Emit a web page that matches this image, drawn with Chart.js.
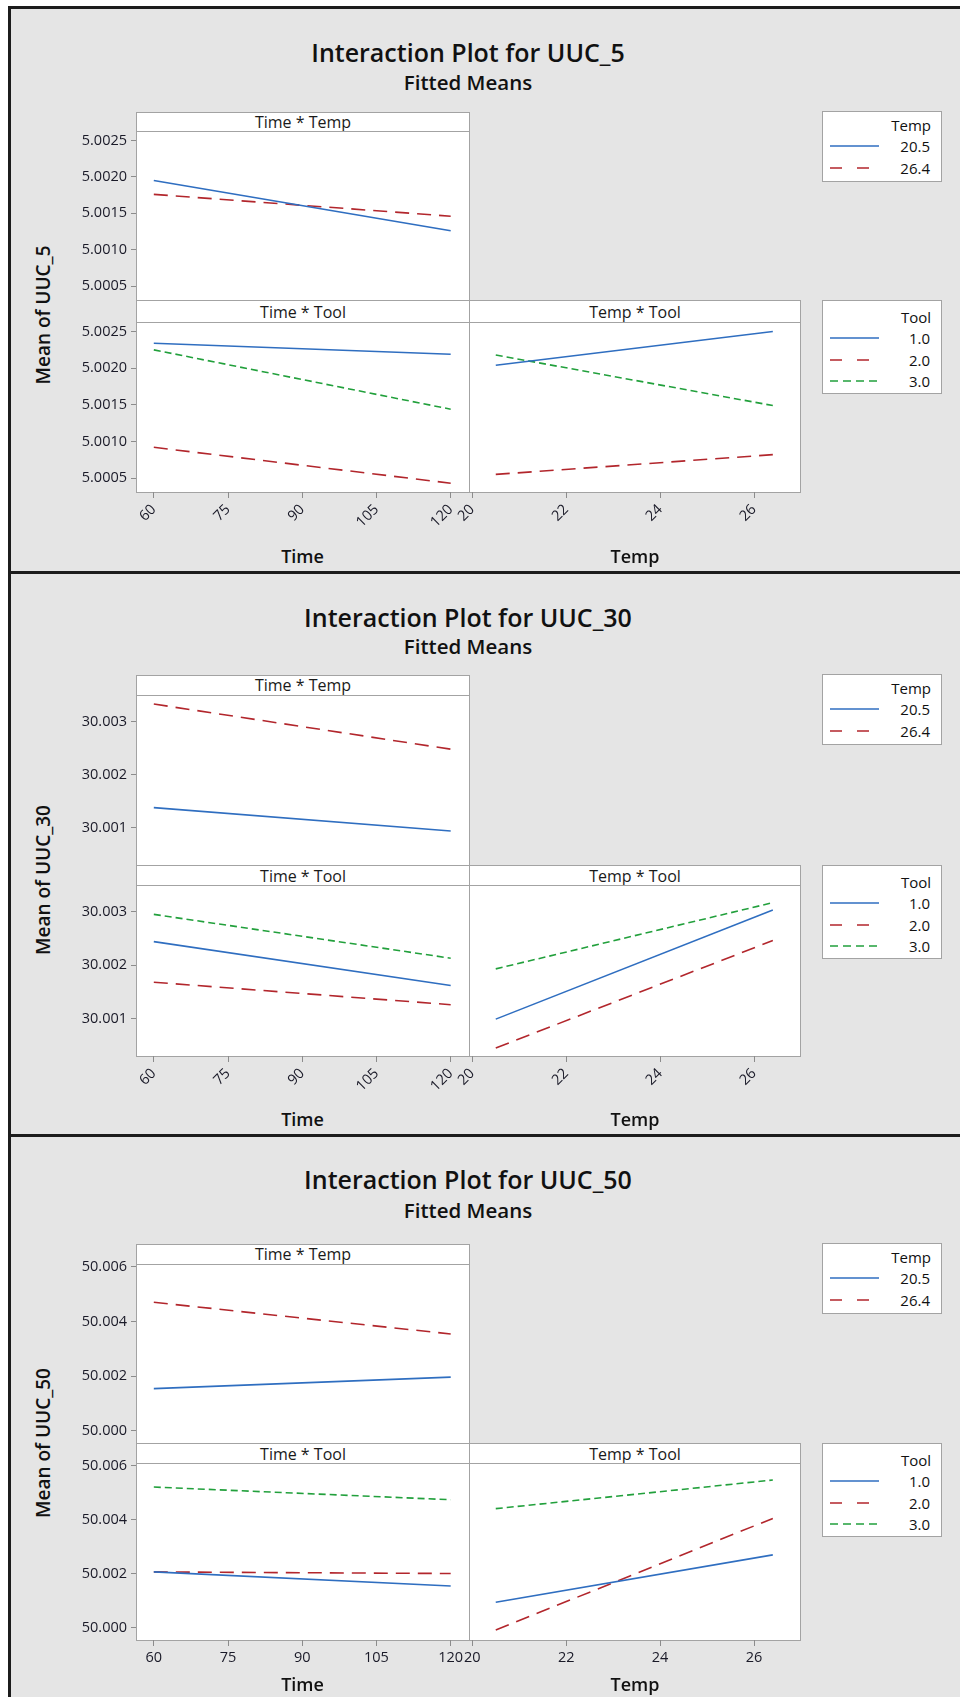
<!DOCTYPE html>
<html>
<head>
<meta charset="utf-8">
<script src="https://cdn.jsdelivr.net/npm/chart.js@4.4.1/dist/chart.umd.min.js"></script>
<style>
  body { margin: 0; width: 960px; height: 1697px; background: #fff; position: relative; overflow: hidden; font-family: 'Open Sans', sans-serif; color: #111; }
  .panel { position: absolute; left: 8px; width: 960px; background: #e5e5e5; border: 3px solid #1c1c1c; box-sizing: border-box; }
  .box { position: absolute; background: #fff; border: 1px solid #a3a3a3; box-sizing: border-box; z-index: 1; }
  .strip { text-align: center; font-size: 16px; line-height: 18px; color: #1a1a1a; }
  .txt { position: absolute; white-space: nowrap; z-index: 4; }
  canvas { position: absolute; z-index: 3; }
</style>
</head>
<body>
<script>
// factor levels and tick labels
const timeLevels = [60, 120];
const tempLevels = [20.5, 26.4];
const timeTicks = [60, 75, 90, 105, 120];
const tempTicks = [20, 22, 24, 26];
const tempNames = ['20.5', '26.4'];
const toolNames = ['1.0', '2.0', '3.0'];

// UUC_5 fitted means
const u5Ticks = [5.0005, 5.0010, 5.0015, 5.0020, 5.0025];
const u5TimeTemp205 = [5.00195, 5.00126];
const u5TimeTemp264 = [5.00176, 5.00146];
const u5TimeTool1 = [5.00234, 5.00219];
const u5TimeTool2 = [5.00092, 5.00043];
const u5TimeTool3 = [5.00225, 5.00144];
const u5TempTool1 = [5.00204, 5.00250];
const u5TempTool2 = [5.00055, 5.00082];
const u5TempTool3 = [5.00218, 5.00149];

// UUC_30 fitted means
const u30Ticks = [30.001, 30.002, 30.003];
const u30TimeTemp205 = [30.00138, 30.00094];
const u30TimeTemp264 = [30.00333, 30.00248];
const u30TimeTool1 = [30.00244, 30.00162];
const u30TimeTool2 = [30.00168, 30.00126];
const u30TimeTool3 = [30.00295, 30.00213];
const u30TempTool1 = [30.00099, 30.00303];
const u30TempTool2 = [30.00045, 30.00246];
const u30TempTool3 = [30.00193, 30.00317];

// UUC_50 fitted means
const u50Ticks = [50.000, 50.002, 50.004, 50.006];
const u50TimeTemp205 = [50.00154, 50.00196];
const u50TimeTemp264 = [50.00470, 50.00354];
const u50TimeTool1 = [50.00207, 50.00155];
const u50TimeTool2 = [50.00207, 50.00201];
const u50TimeTool3 = [50.00521, 50.00474];
const u50TempTool1 = [50.00095, 50.00270];
const u50TempTool2 = [49.99992, 50.00405];
const u50TempTool3 = [50.00441, 50.00547];

const blue = { color: '#2f6ec0', dash: [], legendDash: '' };
const red = { color: '#b2262c', dash: [14, 8], legendDash: '12 15' };
const green = { color: '#22a03c', dash: [7, 4], legendDash: '8 5' };

const tickFont = { family: "'Open Sans', sans-serif", size: 14.5 };

function div(cls, l, t, w, h, html, extra) {
    const d = document.createElement('div');
    d.className = cls;
    d.style.cssText = `left:${l}px;top:${t}px;width:${w}px;height:${h}px;` + (extra || '');
    if (html) d.innerHTML = html;
    document.body.appendChild(d);
    return d;
}

function text(x, y, str, css, align) {
    const d = document.createElement('div');
    d.className = 'txt';
    const tr = align === 'right' ? 'translate(-100%,-50%)' : 'translate(-50%,-50%)';
    d.style.cssText = `left:${x}px;top:${y}px;transform:${tr};` + (css || '');
    d.textContent = str;
    document.body.appendChild(d);
    return d;
}

function line(xs, ys, st) {
    return {
        data: xs.map((x, i) => ({ x: x, y: ys[i] })),
        borderColor: st.color,
        borderDash: st.dash,
        borderWidth: 1.6,
        pointRadius: 0,
        tension: 0,
        fill: false
    };
}

function plot(c) {
    const yW = c.showY ? 76 : 0;
    const padL = c.showY ? 0 : 30;
    const padT = 10;
    const xH = c.showX ? 48 : 0;
    const padB = c.showX ? 0 : 8;
    const W = c.width + yW + padL;
    const H = c.height + padT + xH + padB;
    const cv = document.createElement('canvas');
    cv.width = W;
    cv.height = H;
    cv.style.left = (c.left - yW - padL) + 'px';
    cv.style.top = (c.top - padT) + 'px';
    cv.style.width = W + 'px';
    cv.style.height = H + 'px';
    document.body.appendChild(cv);

    new Chart(cv.getContext('2d'), {
        type: 'line',
        data: { datasets: c.datasets },
        options: {
            responsive: false,
            animation: false,
            devicePixelRatio: 1,
            layout: { padding: { left: padL, top: padT, right: 0, bottom: padB } },
            plugins: { legend: { display: false }, tooltip: { enabled: false } },
            scales: {
                x: {
                    type: 'linear',
                    display: c.showX,
                    min: c.xMin,
                    max: c.xMax,
                    afterBuildTicks: s => { s.ticks = c.xTicks.map(v => ({ value: v })); },
                    afterFit: s => { s.height = xH; s.paddingLeft = 0; s.paddingRight = 0; },
                    grid: { drawOnChartArea: false, drawTicks: true, tickLength: 6, color: '#8c8c8c' },
                    border: { display: false },
                    ticks: {
                        autoSkip: false,
                        minRotation: c.rot,
                        maxRotation: c.rot,
                        padding: 3,
                        color: '#1a1a28',
                        font: tickFont,
                        callback: v => String(v)
                    }
                },
                y: {
                    type: 'linear',
                    display: c.showY,
                    min: c.yMin,
                    max: c.yMax,
                    afterBuildTicks: s => { s.ticks = c.yTicks.map(v => ({ value: v })); },
                    afterFit: s => { s.width = yW; s.paddingTop = 0; s.paddingBottom = 0; },
                    grid: { drawOnChartArea: false, drawTicks: true, tickLength: 5, color: '#8c8c8c' },
                    border: { display: false },
                    ticks: {
                        padding: 4,
                        color: '#1a1a28',
                        font: tickFont,
                        callback: v => v.toFixed(c.digits)
                    }
                }
            }
        }
    });
}

function legend(top, title, names, styles) {
    const h = names.length === 2 ? 71 : 94;
    div('box', 822, top, 120, h, '', 'z-index:2;');
    const t0 = names.length === 2 ? 14 : 17;
    text(931, top + t0, title, 'font-size:15px;', 'right');
    names.forEach((n, i) => {
        const y = top + t0 + 21 + i * 21.5;
        const svg = document.createElementNS('http://www.w3.org/2000/svg', 'svg');
        svg.setAttribute('width', '50');
        svg.setAttribute('height', '4');
        svg.style.cssText = `position:absolute;left:830px;top:${y - 2}px;z-index:4;`;
        const ln = document.createElementNS('http://www.w3.org/2000/svg', 'line');
        ln.setAttribute('x1', '0'); ln.setAttribute('x2', '49');
        ln.setAttribute('y1', '2'); ln.setAttribute('y2', '2');
        ln.setAttribute('stroke', styles[i].color);
        ln.setAttribute('stroke-width', '1.6');
        if (styles[i].legendDash) ln.setAttribute('stroke-dasharray', styles[i].legendDash);
        svg.appendChild(ln);
        document.body.appendChild(svg);
        text(930, y, n, 'font-size:15px;', 'right');
    });
}

// page layout of the three Minitab panels
const panels = [
    {
        name: 'UUC_5', top: 6, height: 568, titleY: 52, subY: 82, labelY: 315, axisY: 556,
        s1: 112, p1: 131, b1: 300, p2: 322, b2: 492, rot: 45,
        yMin: 5.00031, yMax: 5.00263, ticks: u5Ticks, digits: 4,
        tt: [u5TimeTemp205, u5TimeTemp264],
        tl: [u5TimeTool1, u5TimeTool2, u5TimeTool3],
        pl: [u5TempTool1, u5TempTool2, u5TempTool3]
    },
    {
        name: 'UUC_30', top: 571, height: 566, titleY: 617, subY: 646, labelY: 880, axisY: 1119,
        s1: 675, p1: 695, b1: 865, p2: 885, b2: 1056, rot: 45,
        yMin: 30.0003, yMax: 30.0035, ticks: u30Ticks, digits: 3,
        tt: [u30TimeTemp205, u30TimeTemp264],
        tl: [u30TimeTool1, u30TimeTool2, u30TimeTool3],
        pl: [u30TempTool1, u30TempTool2, u30TempTool3]
    },
    {
        name: 'UUC_50', top: 1134, height: 600, titleY: 1179, subY: 1210, labelY: 1443, axisY: 1684,
        s1: 1244, p1: 1264, b1: 1443, p2: 1463, b2: 1640, rot: 0,
        yMin: 49.99955, yMax: 50.0061, ticks: u50Ticks, digits: 3,
        tt: [u50TimeTemp205, u50TimeTemp264],
        tl: [u50TimeTool1, u50TimeTool2, u50TimeTool3],
        pl: [u50TempTool1, u50TempTool2, u50TempTool3]
    }
];

const L = 136, M = 469, R = 801;

panels.forEach(p => {
    div('panel', 8, p.top, 960, p.height);
    text(468, p.titleY, 'Interaction Plot for ' + p.name, 'font-size:25px;font-weight:600;');
    text(468, p.subY, 'Fitted Means', 'font-size:20.5px;font-weight:600;');
    text(43, p.labelY, 'Mean of ' + p.name, 'font-size:19px;font-weight:600;transform:translate(-50%,-50%) rotate(-90deg);');

    // strips and plot frames
    div('box strip', L, p.s1, M - L + 1, p.p1 - p.s1 + 1, 'Time * Temp');
    div('box', L, p.p1, M - L + 1, p.b1 - p.p1 + 1);
    div('box strip', L, p.b1, M - L + 1, p.p2 - p.b1 + 1, 'Time * Tool', `line-height:${p.p2 - p.b1}px;`);
    div('box', L, p.p2, M - L + 1, p.b2 - p.p2 + 1);
    div('box strip', M, p.b1, R - M, p.p2 - p.b1 + 1, 'Temp * Tool', `line-height:${p.p2 - p.b1}px;`);
    div('box', M, p.p2, R - M, p.b2 - p.p2 + 1);

    const base = { yMin: p.yMin, yMax: p.yMax, yTicks: p.ticks, digits: p.digits, rot: p.rot };
    plot(Object.assign({}, base, {
        left: L, top: p.p1, width: M - L, height: p.b1 - p.p1, showY: true, showX: false,
        xMin: 56.4, xMax: 123.7, xTicks: timeTicks,
        datasets: [line(timeLevels, p.tt[0], blue), line(timeLevels, p.tt[1], red)]
    }));
    plot(Object.assign({}, base, {
        left: L, top: p.p2, width: M - L, height: p.b2 - p.p2, showY: true, showX: true,
        xMin: 56.4, xMax: 123.7, xTicks: timeTicks,
        datasets: [line(timeLevels, p.tl[0], blue), line(timeLevels, p.tl[1], red), line(timeLevels, p.tl[2], green)]
    }));
    plot(Object.assign({}, base, {
        left: M, top: p.p2, width: R - M, height: p.b2 - p.p2, showY: false, showX: true,
        xMin: 19.93, xMax: 27.0, xTicks: tempTicks,
        datasets: [line(tempLevels, p.pl[0], blue), line(tempLevels, p.pl[1], red), line(tempLevels, p.pl[2], green)]
    }));

    text((L + M) / 2, p.axisY, 'Time', 'font-size:18px;font-weight:600;');
    text((M + R) / 2, p.axisY, 'Temp', 'font-size:18px;font-weight:600;');

    legend(p.s1 - 1, 'Temp', tempNames, [blue, red]);
    legend(p.b1, 'Tool', toolNames, [blue, red, green]);
});
</script>
</body>
</html>
